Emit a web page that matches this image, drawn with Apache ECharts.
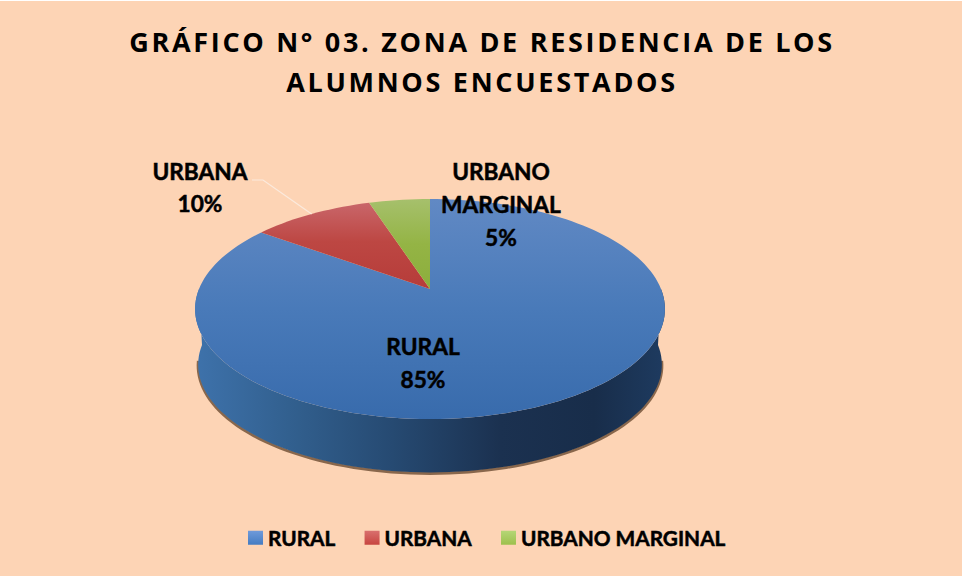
<!DOCTYPE html>
<html>
<head>
<meta charset="utf-8">
<style>
  html, body { margin: 0; padding: 0; background: #fff; }
  #chart { width: 962px; height: 575px; margin-top: 1px; }
  /* the title is spaced out in the original, zrender has no option for it */
  #chart text[style*="Open Sans"] { letter-spacing: 2.7px; }
</style>
<script src="https://cdn.jsdelivr.net/npm/echarts@6/dist/echarts.min.js"></script>
</head>
<body>
<div id="chart"></div>
<script>
var categories = ["RURAL", "URBANA", "URBANO MARGINAL"];
var percents = [85, 10, 5];

var titleLines = ["GRÁFICO N° 03. ZONA DE RESIDENCIA DE LOS", "ALUMNOS ENCUESTADOS"];

var FONT = "Lato";
var cx = 430, cy = 288;
var persp = -0.1818, scaleX = 231, scaleY = 106.4;
var depth = 56, rimX = 0.987, rimY = 0.98;

function gradient(x0, y0, x1, y1, stops) {
  return {
    type: "linear", x: x0, y: y0, x2: x1, y2: y1,
    colorStops: stops.map(function (s) { return { offset: s[0], color: s[1] }; })
  };
}

var faceColors = [
  gradient(0, 0, 0, 1, [[0, "#6189c4"], [0.5, "#497ab9"], [1, "#386bac"]]),
  gradient(0, 0, 0, 1, [[0, "#c9666a"], [0.45, "#bd4743"], [1, "#b63c39"]]),
  gradient(0, 0, 0, 1, [[0, "#a6c06c"], [0.5, "#94b445"], [1, "#8cae3c"]])
];
var legendColors = [
  gradient(0, 0, 0, 1, [[0, "#6f9ada"], [1, "#447cc2"]]),
  gradient(0, 0, 0, 1, [[0, "#d9706e"], [1, "#c74540"]]),
  gradient(0, 0, 0, 1, [[0, "#b5d676"], [1, "#9dc04d"]])
];
var wallColor = gradient(0, 0, 1, 0, [
  [0, "#3e72ab"], [0.2, "#32608f"], [0.42, "#264a72"], [0.65, "#1b3150"], [0.85, "#182d4a"], [1, "#1e3b60"]
]);

// where each label sits and how tall its lines are
var labelStyle = [
  { x: 423, y: 362, lineHeight: 33 },
  { x: 200, y: 186, lineHeight: 32 },
  { x: 501, y: 203, lineHeight: 33 }
];

// angle in degrees, clockwise from the back of the pie
function project(deg, sx, sy, dy) {
  var a = deg * Math.PI / 180;
  var u = Math.sin(a), v = -Math.cos(a);
  var w = 1 + persp * v;
  return [cx + sx * scaleX * u / w, cy + dy + sy * scaleY * v / w];
}

function arc(from, to, sx, sy, dy) {
  var pts = [], n = Math.max(2, Math.ceil(Math.abs(to - from) / 2));
  for (var i = 0; i <= n; i++) {
    pts.push(project(from + (to - from) * i / n, sx, sy, dy));
  }
  return pts;
}

function makeRenderItem(index) {
  return function (params, api) {
    var value = api.value(0);
    var before = 0, total = 0;
    percents.forEach(function (p, i) {
      total += p;
      if (i < index) before += p;
    });
    var start = before / total * 360;
    var end = start + value / total * 360;
    var children = [];

    // side wall, only the slice that reaches the front of the pie has one
    if (start < 180 && end > 180) {
      // soft brown edge under the wall
      children.push({
        type: "polyline",
        shape: { points: arc(262, 98, rimX, rimY, depth + 1) },
        style: { stroke: "rgba(75,45,20,0.65)", lineWidth: 3, fill: null }
      });
      var wall = arc(90, 270, 1, 1, 0).concat(arc(270, 90, rimX, rimY, depth));
      children.push({
        type: "polygon",
        shape: { points: wall },
        style: { fill: wallColor }
      });
    }

    children.push({
      type: "polygon",
      shape: { points: [[cx, cy]].concat(arc(start, end, 1, 1, 0)) },
      style: { fill: faceColors[index] }
    });

    var lab = labelStyle[index];
    var name = categories[index];

    // only URBANA has its label far enough away to get a leader line
    if (index === 1) {
      var rim = project((start + end) / 2, 1, 1, 0);
      children.push({
        type: "polyline",
        shape: { points: [[252, 179], [263, 179], rim] },
        style: { stroke: "#fbeadd", lineWidth: 1.2, fill: null }
      });
    }

    children.push({
      type: "text",
      z2: 10,
      style: {
        x: lab.x,
        y: lab.y,
        text: name.replace(" ", "\n") + "\n" + value + "%",
        font: "bold 22.7px " + FONT,
        lineHeight: lab.lineHeight,
        fill: "#000",
        stroke: "#000",
        lineWidth: 0.5,
        align: "center",
        verticalAlign: "middle"
      }
    });

    return { type: "group", children: children };
  };
}

var chart = echarts.init(document.getElementById("chart"), null, { renderer: "svg" });

chart.setOption({
  animation: false,
  backgroundColor: "#fdd4b5",
  title: {
    text: titleLines.join("\n"),
    left: 477,
    top: 15,
    textAlign: "center",
    textStyle: {
      fontFamily: "Open Sans",
      fontWeight: "bold",
      fontSize: 27,
      lineHeight: 40,
      color: "#000"
    }
  },
  legend: {
    left: 243,
    top: 521,
    itemWidth: 15,
    itemHeight: 14,
    itemGap: 29,
    icon: "rect",
    selectedMode: false,
    textStyle: {
      fontFamily: FONT,
      fontWeight: "bold",
      fontSize: 20.8,
      color: "#000",
      textBorderColor: "#000",
      textBorderWidth: 0.5
    },
    data: categories.map(function (name, i) {
      return { name: name, itemStyle: { color: legendColors[i] } };
    })
  },
  series: categories.map(function (name, i) {
    return {
      type: "custom",
      name: name,
      coordinateSystem: "none",
      silent: true,
      z: i === 0 ? 2 : 3,
      itemStyle: { color: legendColors[i] },
      renderItem: makeRenderItem(i),
      data: [[percents[i]]]
    };
  })
});
</script>
</body>
</html>
